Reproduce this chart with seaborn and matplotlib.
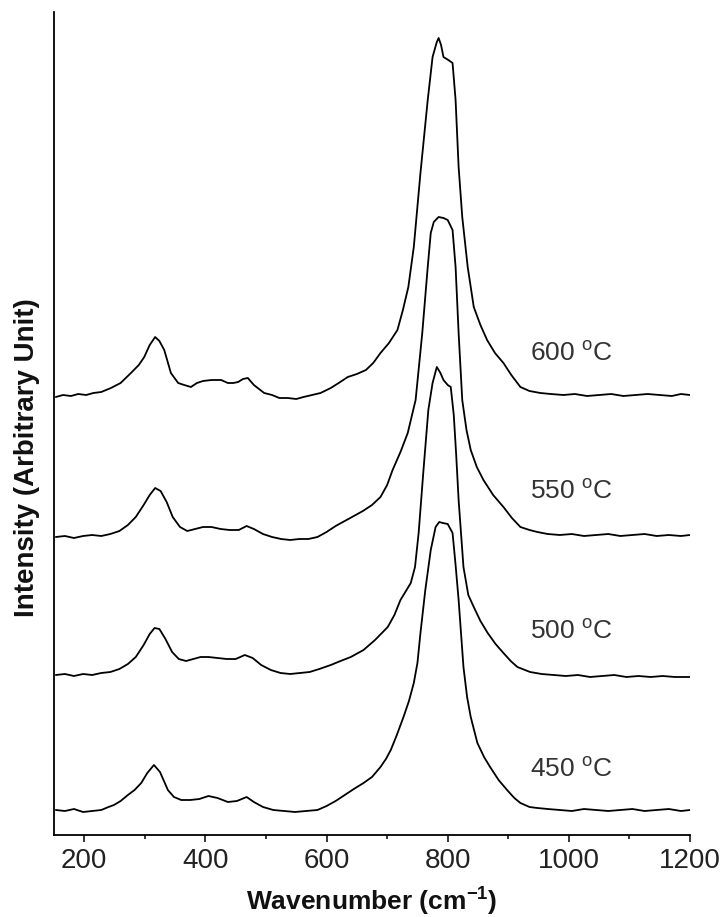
import matplotlib
matplotlib.use("Agg")
import matplotlib.pyplot as plt
from matplotlib.ticker import MultipleLocator
import numpy as np
import pandas as pd
import seaborn as sns

# ---------------- data ----------------
temps = ["450", "500", "550", "600"]

x600 = [153, 165, 178, 190, 203, 215, 228, 244, 260, 277, 290, 299, 308, 317, 324, 332, 343, 355, 365, 376,
        386, 396, 410, 426, 437, 446, 454, 462, 470, 480, 497, 510, 522, 536, 550, 562, 576, 590, 607, 620,
        635, 650, 665, 677, 689, 703, 717, 726, 735, 744, 755, 767, 775, 782, 785, 789, 793, 801, 808, 813,
        818, 824, 833, 843, 854, 865, 878, 892, 905, 920, 935, 953, 970, 991, 1010, 1030, 1050, 1070, 1090, 1110,
        1130, 1150, 1170, 1185, 1200]
i600 = [438, 440, 439, 441, 440, 442, 443, 447, 452, 462, 470, 478, 490, 498, 494, 485, 462, 452, 450, 448,
        452, 454, 455, 455, 452, 452, 453, 456, 457, 450, 442, 440, 437, 437, 436, 438, 440, 442, 447, 452,
        458, 461, 465, 472, 482, 492, 505, 525, 548, 588, 662, 735, 778, 793, 797, 790, 778, 775, 772, 735,
        668, 618, 568, 528, 510, 495, 482, 472, 460, 448, 444, 442, 441, 440, 441, 439, 440, 441, 439, 440,
        441, 440, 439, 441, 440]

x550 = [153, 168, 183, 198, 213, 228, 243, 258, 272, 285, 298, 308, 317, 326, 336, 346, 358, 370, 383, 396,
        410, 425, 440, 455, 468, 480, 495, 510, 525, 540, 555, 570, 585, 600, 615, 630, 645, 660, 675, 689,
        700, 709, 722, 734, 747, 758, 767, 772, 777, 785, 793, 800, 808, 813, 818, 824, 831, 838, 848, 859,
        875, 892, 906, 920, 935, 948, 965, 985, 1005, 1025, 1045, 1065, 1085, 1105, 1125, 1145, 1165, 1185, 1200]
i550 = [298, 299, 297, 299, 300, 299, 301, 304, 310, 318, 330, 340, 347, 344, 333, 318, 308, 304, 306, 308,
        308, 306, 305, 305, 309, 306, 301, 298, 296, 295, 296, 296, 298, 303, 309, 314, 319, 324, 330, 338,
        350, 365, 383, 402, 435, 502, 568, 602, 613, 618, 617, 615, 605, 568, 502, 435, 405, 385, 368, 355,
        340, 328, 317, 308, 305, 303, 301, 300, 301, 299, 300, 301, 299, 300, 301, 299, 300, 299, 300]

x500 = [153, 168, 183, 198, 213, 228, 243, 258, 272, 285, 298, 308, 316, 324, 334, 345, 356, 368, 380, 392,
        405, 420, 435, 450, 465, 478, 492, 508, 524, 540, 556, 572, 588, 607, 623, 640, 661, 680, 701, 712,
        722, 731, 739, 746, 752, 760, 768, 775, 782, 788, 793, 800, 805, 810, 814, 818, 826, 834, 843, 854,
        866, 879, 892, 904, 915, 936, 955, 975, 995, 1015, 1035, 1055, 1075, 1095, 1115, 1135, 1155, 1175, 1200]
i500 = [160, 161, 159, 161, 160, 162, 163, 166, 171, 178, 190, 201, 207, 206, 196, 183, 176, 174, 176, 178,
        178, 177, 176, 176, 180, 177, 170, 165, 162, 161, 162, 163, 166, 170, 174, 178, 185, 195, 208, 220,
        235, 244, 252, 268, 302, 365, 425, 452, 468, 462, 455, 450, 448, 420, 380, 335, 268, 240, 228, 214,
        202, 191, 182, 174, 168, 163, 161, 160, 159, 160, 158, 159, 160, 158, 159, 158, 159, 158, 158]

x450 = [153, 168, 183, 198, 213, 228, 240, 249, 260, 272, 283, 294, 304, 315, 325, 338, 348, 360, 375, 390,
        405, 420, 437, 452, 468, 480, 495, 512, 530, 548, 566, 585, 600, 615, 630, 645, 661, 675, 689, 698,
        706, 716, 727, 736, 744, 750, 755, 763, 772, 780, 786, 792, 800, 808, 813, 818, 826, 832, 838, 849,
        860, 870, 884, 898, 910, 920, 935, 948, 965, 985, 1005, 1025, 1045, 1065, 1085, 1105, 1125, 1145, 1165, 1185,
        1200]
i450 = [25, 24, 26, 23, 24, 25, 28, 30, 34, 40, 45, 52, 62, 70, 63, 45, 38, 35, 35, 36,
        39, 37, 33, 34, 38, 33, 28, 25, 24, 23, 24, 25, 29, 34, 40, 46, 52, 58, 68, 76,
        85, 100, 118, 134, 152, 172, 202, 245, 285, 308, 313, 312, 311, 302, 270, 235, 168, 138, 118, 92,
        78, 68, 55, 45, 37, 32, 28, 27, 26, 25, 24, 26, 25, 24, 25, 26, 24, 25, 26, 24,
        25]

xticks = [200, 400, 600, 800, 1000, 1200]
xlabel = "Wavenumber (cm$^{\\mathbf{-1}}$)"
ylabel = "Intensity (Arbitrary Unit)"

series = {"450": (x450, i450), "500": (x500, i500), "550": (x550, i550), "600": (x600, i600)}
frames = []
for t in temps:
    xs, ys = series[t]
    assert len(xs) == len(ys), t
    frames.append(pd.DataFrame({"wavenumber": xs, "intensity": ys, "temp": t}))
df = pd.concat(frames, ignore_index=True)

# ---------------- style ----------------
sns.set_theme(style="white")
plt.rcParams["font.family"] = ["Liberation Sans", "DejaVu Sans"]
plt.rcParams["mathtext.fontset"] = "custom"
plt.rcParams["mathtext.rm"] = "Liberation Sans"
plt.rcParams["mathtext.it"] = "Liberation Sans:italic"
plt.rcParams["mathtext.bf"] = "Liberation Sans:bold"

fig = plt.figure(figsize=(7.25, 9.17), dpi=100)
ax = fig.add_axes([54 / 725, 82 / 917, 636 / 725, 823 / 917])

sns.lineplot(data=df, x="wavenumber", y="intensity", units="temp", estimator=None,
             color="black", linewidth=1.3, sort=False, ax=ax, legend=False)

ax.set_xlim(150, 1200)
ax.set_ylim(0, 823)
ax.set_xticks(xticks)
ax.set_xticklabels([str(v) for v in xticks])
ax.xaxis.set_minor_locator(MultipleLocator(100))
ax.set_yticks([])
sns.despine(ax=ax)
for s in ("left", "bottom"):
    ax.spines[s].set_linewidth(1.3)
    ax.spines[s].set_color("black")
ax.tick_params(axis="x", which="major", direction="out", length=5, width=1.1,
               color="black", labelsize=20, labelcolor="#222222", pad=4, bottom=True)
ax.tick_params(axis="x", which="minor", direction="out", length=3, width=1.1,
               color="black", bottom=True)

ax.set_xlabel(xlabel, fontsize=19, fontweight="bold", color="#111111")
ax.xaxis.set_label_coords(0.5, -0.062)
ax.set_ylabel(ylabel, fontsize=20, fontweight="bold", color="#111111")
ax.yaxis.set_label_coords(-0.022, 0.459)

label_y = {"450": 65, "500": 203, "550": 343, "600": 481}
for t in temps:
    ax.text(936, label_y[t], t + " $^{\\mathrm{o}}$C", fontsize=19, color="#333333",
            ha="left", va="center")

fig.savefig("out.png", dpi=100)
